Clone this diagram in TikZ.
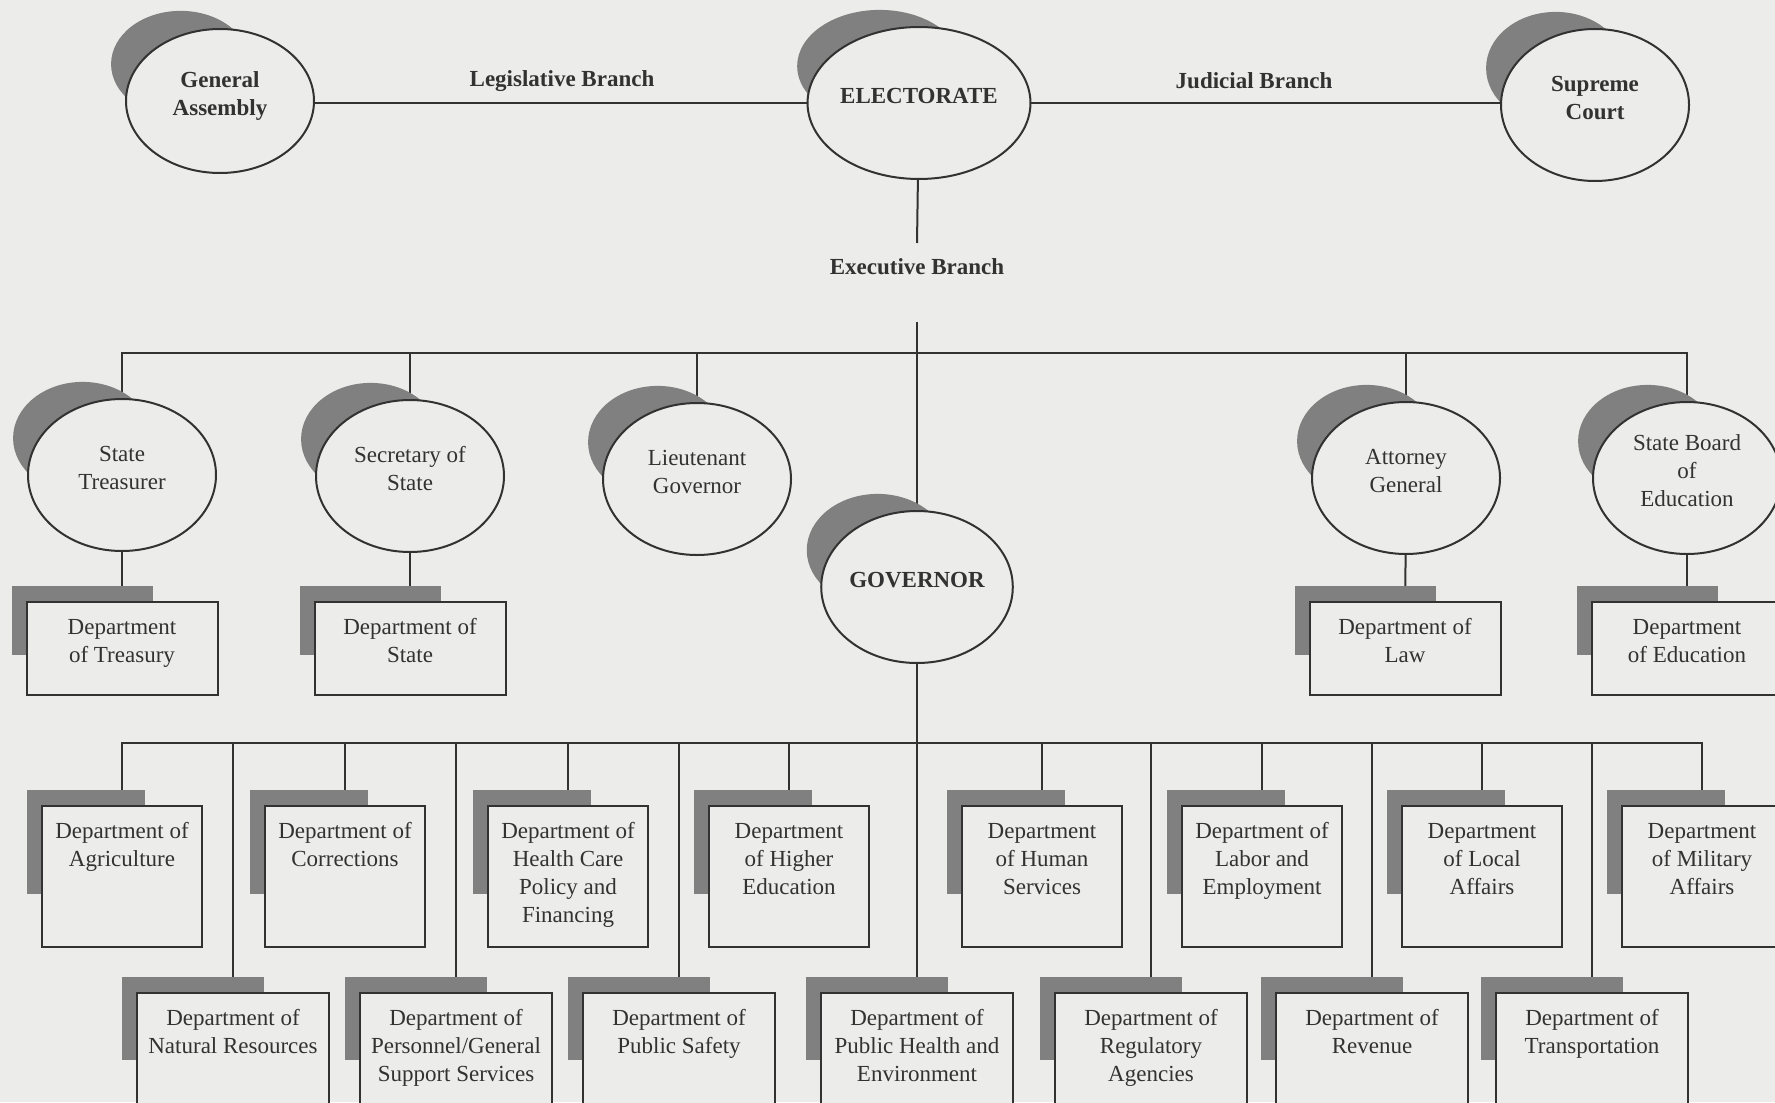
\documentclass[tikz,border=0pt]{standalone}
\usepackage{fontspec}
\setmainfont{Liberation Serif}
\usetikzlibrary{shapes.geometric,shadows,backgrounds}

\definecolor{paper}{RGB}{236,236,234}
\definecolor{ink}{RGB}{50,50,50}
\definecolor{shade}{RGB}{128,128,128}

% label lines inside an ellipse, set a little above its centre
\newcommand{\seatname}[1]{\begin{tabular}[b]{@{}c@{}}#1\end{tabular}\rule[-9.6pt]{0pt}{9.6pt}}

\tikzset{
  wire/.style={draw=ink, line width=1pt},
  seat/.style={ellipse, draw=ink, fill=paper, line width=1pt,
    minimum width=94pt, minimum height=76pt, inner sep=0pt,
    text=ink, font=\fontsize{11.5}{14}\selectfont,
    general shadow={fill=shade, shadow scale=0.74, shadow xshift=-26.6pt, shadow yshift=24.9pt}},
  topseat/.style={seat, font=\fontsize{11.5}{14}\selectfont\bfseries},
  branch/.style={text=ink, font=\fontsize{11.5}{14}\selectfont\bfseries},
  dept/.style={rectangle, draw=ink, fill=paper, line width=1pt, inner sep=0pt,
    text=ink, font=\fontsize{11.5}{14}\selectfont, execute at end node={\end{minipage}}},
  deptthree/.style={dept,
    execute at begin node={\begin{minipage}[c][46.5pt][t]{95.5pt}\centering\rule{0pt}{16pt}},
    general shadow={fill=shade, shadow scale=0.74, shadow xshift=-26.9pt, shadow yshift=18.9pt}},
  deptfour/.style={dept,
    execute at begin node={\begin{minipage}[c][70.5pt][t]{80pt}\centering\rule{0pt}{16pt}},
    general shadow={fill=shade, shadow scale=0.74, shadow xshift=-24.2pt, shadow yshift=23.2pt}},
  deptfive/.style={dept,
    execute at begin node={\begin{minipage}[c][56pt][t]{96pt}\centering\rule{0pt}{16pt}},
    general shadow={fill=shade, shadow scale=0.74, shadow xshift=-27pt, shadow yshift=20.7pt}}
}

\begin{document}
\begin{tikzpicture}[x=0.5pt, y=-0.5pt]
    \useasboundingbox (0,0) rectangle (1775,1102);

    % top line
    \node[topseat, minimum height=72pt] (ga) at (220,101) {\seatname{General\\Assembly}};
    \node[topseat] (elect) at (919,103) {\seatname{ELECTORATE}};
    \node[topseat] (sup) at (1595,105) {\seatname{Supreme\\Court}};
    \node[branch] (legis) at (562,81) {Legislative Branch};
    \node[branch] (judic) at (1254,81) {Judicial Branch};
    \node[branch] (exec) at (917,267) {Executive Branch};
    \coordinate (execin) at (917,243);
    \coordinate (execout) at (917,322);
    \coordinate (bus2) at (917,353);

    % elected officers
    \node[seat] (treas) at (122,475) {\seatname{State\\Treasurer}};
    \node[seat] (secst) at (410,476) {\seatname{Secretary of\\State}};
    \node[seat] (ltgov) at (697,479) {\seatname{Lieutenant\\Governor}};
    \node[seat] (atty) at (1406,478) {\seatname{Attorney\\General}};
    \node[seat] (sbe) at (1687,478) {\seatname{State Board\\of\\Education}};
    \node[topseat] (gov) at (917,587) {\seatname{GOVERNOR}};

    \node[deptthree] (dtreas) at (122,648.5) {Department\\of Treasury};
    \node[deptthree] (dstate) at (410,648.5) {Department of\\State};
    \node[deptthree] (dlaw) at (1405,648.5) {Department of\\Law};
    \node[deptthree] (dedu) at (1687,648.5) {Department\\of Education};

    % departments under the governor
    \coordinate (bus4) at (917,743);
    \node[deptfour] (dagri) at (122,876.5) {Department of\\Agriculture};
    \node[deptfour] (dcorr) at (345,876.5) {Department of\\Corrections};
    \node[deptfour] (dhcpf) at (568,876.5) {Department of\\Health Care\\Policy and\\Financing};
    \node[deptfour] (dhied) at (789,876.5) {Department\\of Higher\\Education};
    \node[deptfour] (dhums) at (1042,876.5) {Department\\of Human\\Services};
    \node[deptfour] (dlabor) at (1262,876.5) {Department of\\Labor and\\Employment};
    \node[deptfour] (dlocal) at (1482,876.5) {Department\\of Local\\Affairs};
    \node[deptfour] (dmilit) at (1702,876.5) {Department\\of Military\\Affairs};

    \node[deptfive] (dnatres) at (233,1049) {Department of\\Natural Resources};
    \node[deptfive] (dpers) at (456,1049) {Department of\\Personnel/General\\Support Services};
    \node[deptfive] (dpubsaf) at (679,1049) {Department of\\Public Safety};
    \node[deptfive] (dpubhe) at (917,1049) {Department of\\Public Health and\\Environment};
    \node[deptfive] (dregul) at (1151,1049) {Department of\\Regulatory\\Agencies};
    \node[deptfive] (drev) at (1372,1049) {Department of\\Revenue};
    \node[deptfive] (dtrans) at (1592,1049) {Department of\\Transportation};

    \begin{scope}[on background layer]
        \fill[paper] (0,0) rectangle (1775,1102);
        \draw[wire] (elect.west) -- (elect.west -| ga.east);
        \draw[wire] (elect.east) -- (elect.east -| sup.west);
        \draw[wire] (elect) -- (execin);
        \draw[wire] (execout) -- (gov);
        \draw[wire] (treas.north) |- (bus2) -| (sbe.north);
        \foreach \n in {secst,ltgov,atty}
            \draw[wire] (\n.north) -- (\n.north |- bus2);
        \foreach \n/\d in {treas/dtreas,secst/dstate,atty/dlaw,sbe/dedu}
            \draw[wire] (\n) -- (\d);
        \draw[wire] (dagri.north) |- (bus4) -| (dmilit.north);
        \foreach \n in {dcorr,dhcpf,dhied,dhums,dlabor,dlocal,dnatres,dpers,dpubsaf,dregul,drev,dtrans}
            \draw[wire] (\n.north) -- (\n.north |- bus4);
        \draw[wire] (gov) -- (dpubhe);
    \end{scope}
\end{tikzpicture}
\end{document}
